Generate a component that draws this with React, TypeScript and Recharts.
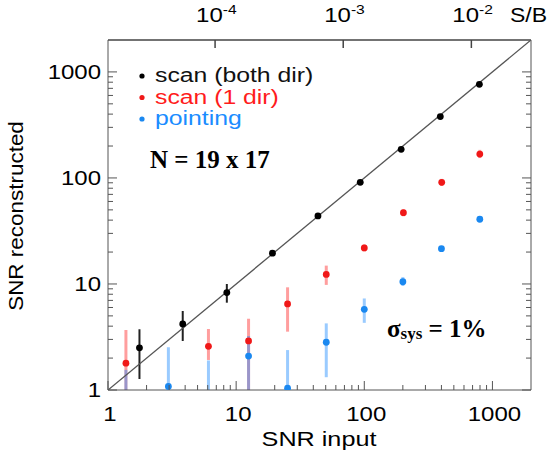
import { ScatterChart, Scatter, XAxis, YAxis, ErrorBar } from 'recharts'

const W = 552
const H = 454
const AXIS = '#555'
const SANS = '"Liberation Sans", Arial, Helvetica, sans-serif'
const SERIF = '"Liberation Serif", "Times New Roman", serif'

// scan (both dir)
const bothX = [1.76, 3.83, 8.46, 19.2, 43.5, 93, 194, 392, 791]
const bothY = [2.5, 4.2, 8.3, 19.5, 43.8, 91, 186, 379, 763]
const bothLo = [1.27, 2.9, 6.66, 18.6, 42.3, 88.5, 181, 370, 748]
const bothHi = [3.74, 5.56, 10, 20.5, 45.3, 93.5, 191, 388, 778]

// scan (1 dir); a low end of 1 means the bar runs off the bottom of the plot
const oneX = [1.38, 6.08, 12.5, 25.2, 50.5, 100, 202, 402, 797]
const oneY = [1.79, 2.58, 2.9, 6.48, 12.3, 21.9, 47, 91, 168]
const oneLo = [1, 1.92, 1, 3.55, 9.8, 20.3, 43.5, 84, 154]
const oneHi = [3.68, 3.76, 4.7, 9.3, 14.9, 23.6, 50.5, 98, 184]

// pointing (first and third fall below the plot, only their bars show)
const pointX = [1.38, 2.96, 6.08, 12.5, 25.2, 50.5, 100, 200, 400, 797]
const pointY = [0.6, 1.08, 0.6, 2.09, 1.04, 2.82, 5.77, 10.5, 21.5, 40.8]
const pointLo = [1, 1, 1, 1, 1, 1.32, 4.3, 9.6, 20.5, 39.5]
const pointHi = [1.55, 2.53, 1.9, 3.23, 2.38, 4.25, 7.3, 11.6, 22.6, 42.2]

const majorTicks = [1, 10, 100, 1000]
const minorSteps = [2, 3, 4, 5, 6, 7, 8, 9]
const logTicks = [...majorTicks, ...majorTicks.slice(0, 3).flatMap((m) => minorSteps.map((s) => s * m))]

// top axis: S/B = SNR * SB_PER_SNR
const SB_PER_SNR = 1.46e-5
const sbTicks = [1e-4, 1e-3, 1e-2]
const sbExp = ['-4', '-3', '-2']

const DOMAIN: [number, number] = [1, 2000]
// y = x reference line, corner to corner
const diagonal = DOMAIN.map((v) => ({ x: v, y: v }))

const series = [
  { name: 'scan (both dir)', color: '#000', text: '#111', bar: '#222', barW: 2, xs: bothX, ys: bothY, lo: bothLo, hi: bothHi },
  { name: 'scan (1 dir)', color: '#f01818', text: '#ff1c1c', bar: 'rgba(255,40,40,0.45)', barW: 3, xs: oneX, ys: oneY, lo: oneLo, hi: oneHi },
  { name: 'pointing', color: '#1a88f0', text: '#1a8cff', bar: 'rgba(30,140,255,0.45)', barW: 3, xs: pointX, ys: pointY, lo: pointLo, hi: pointHi },
]

const toPoints = (xs: number[], ys: number[], lo: number[], hi: number[]) =>
  xs.map((x, i) => ({ x, y: ys[i], err: [ys[i] - lo[i], hi[i] - ys[i]] }))

const isMajor = (v: number) => Math.abs(Math.log10(v) - Math.round(Math.log10(v))) < 1e-6

function BottomTick({ x, y, payload }: any) {
  const v = payload.value
  const major = isMajor(v)
  return (
    <g>
      <line x1={x} x2={x} y1={y} y2={y - (major ? 9 : 5)} stroke={AXIS} />
      {major && (
        <text transform={`translate(${x + 2},${y + 31}) scale(1.2,1)`} textAnchor="middle" fontSize={20} fontFamily={SANS} fill="#000">
          {v}
        </text>
      )}
    </g>
  )
}

function LeftTick({ x, y, payload }: any) {
  const v = payload.value
  const major = isMajor(v)
  return (
    <g>
      <line x1={x} x2={x + (major ? 9 : 5)} y1={y} y2={y} stroke={AXIS} />
      {major && (
        <text transform={`translate(${x - 7},${y + 7}) scale(1.2,1)`} textAnchor="end" fontSize={20} fontFamily={SANS} fill="#000">
          {v}
        </text>
      )}
    </g>
  )
}

function RightTick({ x, y, payload }: any) {
  const major = isMajor(payload.value)
  return <line x1={x} x2={x - (major ? 9 : 5)} y1={y} y2={y} stroke={AXIS} />
}

function TopTick({ x, y, index }: any) {
  return (
    <g>
      <line x1={x} x2={x} y1={y} y2={y + 8} stroke="#444" strokeWidth={1.5} />
      <text transform={`translate(${x - 19},${y - 18}) scale(1.2,1)`} fontSize={20} fontFamily={SANS} fill="#000">
        10
        <tspan fontSize={13} dy={-8}>{sbExp[index]}</tspan>
      </text>
    </g>
  )
}

const dot = (color: string) => (p: any) => <circle cx={p.cx} cy={p.cy} r={3.4} fill={color} />

export default function App() {
  return (
    <div style={{ position: 'absolute', left: 0, top: 0, width: W, height: H, background: '#fff' }}>
      <ScatterChart width={W} height={H} margin={{ top: 0, right: 0, bottom: 0, left: 0 }}>
        <XAxis
          dataKey="x" type="number" scale="log" height={64} domain={DOMAIN} allowDataOverflow
          ticks={logTicks} interval={0} tick={<BottomTick />} tickLine={false} tickSize={0} tickMargin={0}
          axisLine={{ stroke: AXIS }}
        />
        <XAxis
          xAxisId="top" dataKey="x" orientation="top" type="number" scale="log" height={40} domain={DOMAIN} allowDataOverflow
          ticks={sbTicks.map((t) => t / SB_PER_SNR)} interval={0} tick={<TopTick />} tickLine={false} tickSize={0} tickMargin={0}
          axisLine={{ stroke: '#444', strokeWidth: 1.6 }}
        />
        <YAxis
          dataKey="y" type="number" scale="log" width={108} domain={DOMAIN} allowDataOverflow
          ticks={logTicks} interval={0} tick={<LeftTick />} tickLine={false} tickSize={0} tickMargin={0}
          axisLine={{ stroke: AXIS }}
        />
        <YAxis
          yAxisId="right" dataKey="y" orientation="right" type="number" scale="log" width={21} domain={DOMAIN} allowDataOverflow
          ticks={logTicks} interval={0} tick={<RightTick />} tickLine={false} tickSize={0} tickMargin={0}
          axisLine={{ stroke: AXIS }}
        />
        <Scatter
          xAxisId="top" yAxisId="right" data={diagonal} line={{ stroke: '#555', strokeWidth: 1.3 }}
          shape={() => null} isAnimationActive={false}
        />
        {series.map((s) => (
          <Scatter
            key={s.name}
            name={s.name}
            data={toPoints(s.xs, s.ys, s.lo, s.hi)}
            shape={dot(s.color)}
            isAnimationActive={false}
          >
            <ErrorBar dataKey="err" direction="y" width={0} stroke={s.bar} strokeWidth={s.barW} />
          </Scatter>
        ))}
      </ScatterChart>
      <svg width={W} height={H} style={{ position: 'absolute', left: 0, top: 0, pointerEvents: 'none' }}>
        {series.map((s, i) => (
          <g key={s.name}>
            <circle cx={142} cy={76 + i * 21.5} r={2.6} fill={s.color} />
            <text transform={`translate(155,${82 + i * 21.5}) scale(1.18,1)`} fontSize={21} fontFamily={SANS} fill={s.text}>
              {s.name}
            </text>
          </g>
        ))}
        <text x={150} y={168} fontSize={25} fontWeight="bold" fontFamily={SERIF} fill="#000">N = 19 x 17</text>
        <text x={387} y={337} fontSize={25} fontWeight="bold" fontFamily={SERIF} fill="#000">
          σ<tspan fontSize={17} dy={2}>sys</tspan><tspan dy={-2}> = 1%</tspan>
        </text>
        <text transform="translate(510,22) scale(1.15,1)" fontSize={20} fontFamily={SANS} fill="#000">S/B</text>
        <text transform="translate(319,446) scale(1.2,1)" textAnchor="middle" fontSize={21} fontFamily={SANS} fill="#000">SNR input</text>
        <text transform="translate(23,216) rotate(-90) scale(1.07,1)" textAnchor="middle" fontSize={21} fontFamily={SANS} fill="#000">
          SNR reconstructed
        </text>
      </svg>
    </div>
  )
}
